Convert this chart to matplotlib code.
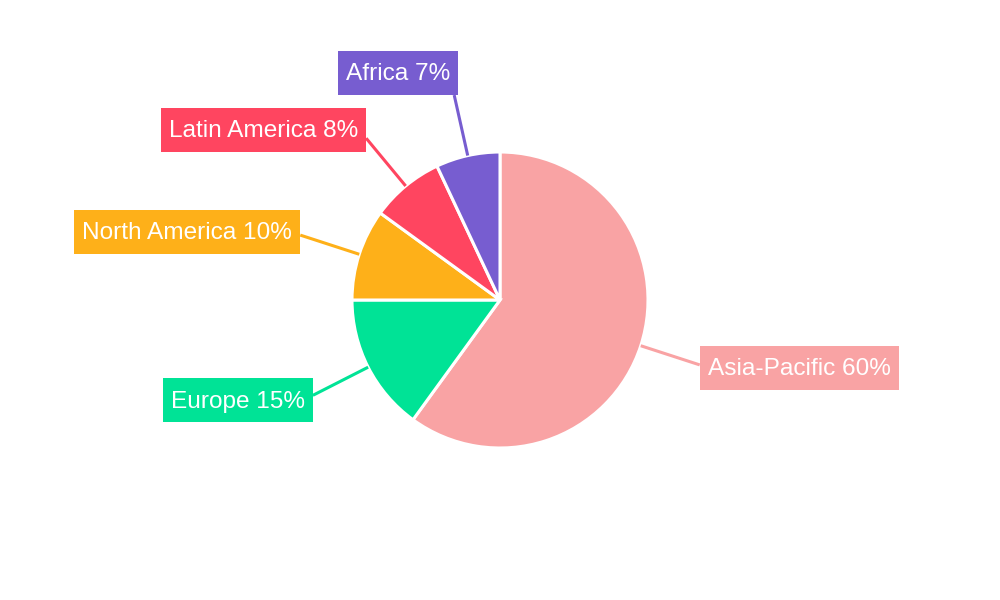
import matplotlib
matplotlib.use("Agg")
import matplotlib.pyplot as plt
from matplotlib.patches import Rectangle
import numpy as np

# Regional share data
regions = ["Asia-Pacific", "Europe", "North America", "Latin America", "Africa"]
shares = [60, 15, 10, 8, 7]
colors = ["#F9A3A4", "#00E396", "#FEB019", "#FF4560", "#775DD0"]

W, H = 1000, 600
CX, CY = 500, 300
R = 148          # pie radius in pixels
R_LEAD = 210     # where leader lines end
FS = 17.6        # label font size (pt)

# label placement: which side of the leader end the box sits, and vertical shift (px, down positive)
placement = {
    "Asia-Pacific": ("left", 3),
    "Europe": ("right", 5),
    "North America": ("right", -3),
    "Latin America": ("right", -8),
    "Africa": ("above", 0),
}

plt.rcParams["font.family"] = ["Liberation Sans", "DejaVu Sans"]

fig = plt.figure(figsize=(W / 100, H / 100), dpi=100)
ax = fig.add_axes([0, 0, 1, 1])

ax.pie(shares, colors=colors, startangle=90, counterclock=False,
       radius=R, center=(CX, H - CY),
       wedgeprops=dict(edgecolor="white", linewidth=2.2))
ax.set_xlim(0, W)
ax.set_ylim(0, H)
ax.set_aspect("equal")
ax.axis("off")

renderer = fig.canvas.get_renderer()
total = float(sum(shares))
cum = 0.0
PADX = 8
BOX_H = 44
cap_px = 0.716 * FS * 100 / 72
base_off = cap_px / 2 - 1.5   # baseline below box centre

for name, val, col in zip(regions, shares, colors):
    mid = np.deg2rad(90 - 360 * (cum + val / 2) / total)
    cum += val
    x0, y0 = CX + R * np.cos(mid), (H - CY) + R * np.sin(mid)
    x1, y1 = CX + R_LEAD * np.cos(mid), (H - CY) + R_LEAD * np.sin(mid)
    ax.plot([x0, x1], [y0, y1], color=col, lw=2.2, solid_capstyle="butt", zorder=3)

    side, dy = placement[name]
    label = f"{name} {val}%"
    yc = y1 - dy
    if side == "left":
        tx, ha = x1 + PADX, "left"
    elif side == "right":
        tx, ha = x1 - PADX, "right"
    else:
        yc = y1 + BOX_H / 2
        tx, ha = x1 + 4 - PADX, "right"
    t = ax.text(tx, yc - base_off, label, ha=ha, va="baseline",
                color="white", fontsize=FS, zorder=5)
    bb = t.get_window_extent(renderer)
    ax.add_patch(Rectangle((bb.x0 - PADX, yc - BOX_H / 2), bb.width + 2 * PADX, BOX_H,
                           facecolor=col, edgecolor="none", zorder=4))

fig.savefig("out.png", dpi=100)
